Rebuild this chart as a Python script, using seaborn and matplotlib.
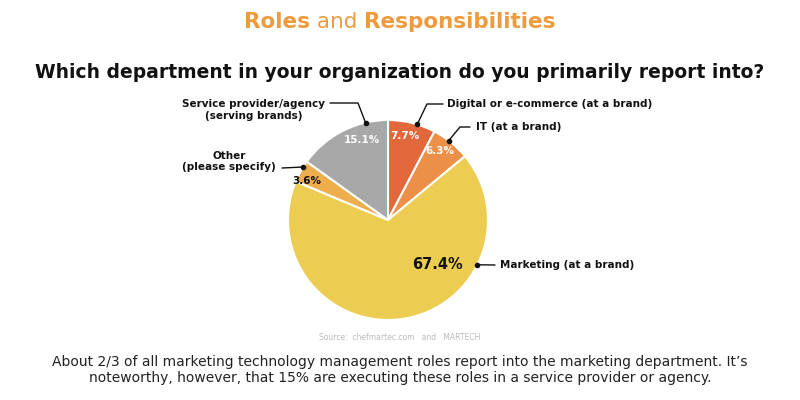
import numpy as np
import matplotlib
matplotlib.use("Agg")
import matplotlib.pyplot as plt
import seaborn as sns

sns.set_theme(style="white")
plt.rcParams['font.family'] = ['DejaVu Sans']

# ---- data ----
categories = ["Digital or e-commerce (at a brand)", "IT (at a brand)",
              "Marketing (at a brand)", "Other\n(please specify)",
              "Service provider/agency\n(serving brands)"]
shares = [7.7, 6.3, 67.4, 3.6, 15.1]
pct_labels = ["7.7%", "6.3%", "67.4%", "3.6%", "15.1%"]
colors = ["#E2683C", "#EC9049", "#ECCD52", "#EFAE4C", "#A8A8A8"]
pct_colors = ["white", "white", "#111111", "#111111", "white"]

fig = plt.figure(figsize=(8, 4), dpi=100)
fig.patch.set_facecolor("white")
renderer = fig.canvas.get_renderer()

# title built from three pieces, centred
title_parts = [("Roles", "bold"), (" and ", "normal"), ("Responsibilities", "bold")]
objs, widths = [], []
for s, w in title_parts:
    o = fig.text(0, 1 - 22/400, s, ha="left", va="center", fontsize=15.5,
                 fontweight=w, color="#EE9B3E")
    objs.append(o)
    widths.append(o.get_window_extent(renderer).width)
x0 = 400 - sum(widths)/2
for o, w in zip(objs, widths):
    o.set_x(x0/800)
    x0 += w

fig.text(0.5, 1 - 72/400, "Which department in your organization do you primarily report into?",
         ha="center", va="center", fontsize=13.5, fontweight="bold", color="#111111")

# pie axes: centre (388,220) px, radius 100 px
ax = fig.add_axes([(388-100)/800, 1-(220+100)/400, 200/800, 200/400])
wedges, _ = ax.pie(shares, colors=colors, startangle=90, counterclock=False,
                   radius=1.0, wedgeprops=dict(edgecolor="white", linewidth=1.5))
ax.set_xlim(-1, 1)
ax.set_ylim(-1, 1)
ax.set_aspect("equal")
ax.axis("off")

# percent labels: angle (deg) and radius per wedge
pct_pos = [(78.6, 0.86), (53, 0.86), (-42, 0.66), (154, 0.90), (108, 0.84)]
pct_sizes = [7.5, 7.5, 10.5, 7.5, 7.5]
for lab, (a, r), c, fs in zip(pct_labels, pct_pos, pct_colors, pct_sizes):
    x, y = r*np.cos(np.radians(a)), r*np.sin(np.radians(a))
    ax.text(x, y, lab, ha="center", va="center", fontsize=fs,
            fontweight="bold", color=c)

# leader lines (dot angle, path points, text pos, alignment)
leaders = [
    (73, [(0.39, 1.16), (0.55, 1.16)], (0.59, 1.16), "left"),
    (52.6, [(0.72, 0.93), (0.82, 0.93)], (0.88, 0.93), "left"),
    (-26.6, [(1.07, -0.45)], (1.12, -0.45), "left"),
    (148, [(-1.06, 0.52)], (-1.59, 0.585), "center"),
    (103, [(-0.30, 1.17), (-0.58, 1.17)], (-1.34, 1.10), "center"),
]
for cat, (a, pts, tpos, ha) in zip(categories, leaders):
    dx, dy = np.cos(np.radians(a)), np.sin(np.radians(a))
    xs = [dx] + [p[0] for p in pts]
    ys = [dy] + [p[1] for p in pts]
    ax.plot(xs, ys, color="#111111", lw=1.0, clip_on=False)
    ax.plot([dx], [dy], "o", color="#111111", ms=3, clip_on=False)
    ax.text(tpos[0], tpos[1], cat, ha=ha, va="center", fontsize=7.5,
            fontweight="bold", color="#111111", linespacing=1.2, clip_on=False)

# source line
fig.text(0.5, 1 - 338/400, "Source:  chefmartec.com   and   MARTECH",
         ha="center", va="center", fontsize=5.5, color="#BBBBBB")

# caption
fig.text(0.5, 1 - 370/400,
         "About 2/3 of all marketing technology management roles report into the marketing department. It\u2019s\n"
         "noteworthy, however, that 15% are executing these roles in a service provider or agency.",
         ha="center", va="center", fontsize=10, color="#222222", linespacing=1.2)

fig.savefig("out.png", dpi=100, facecolor="white")
